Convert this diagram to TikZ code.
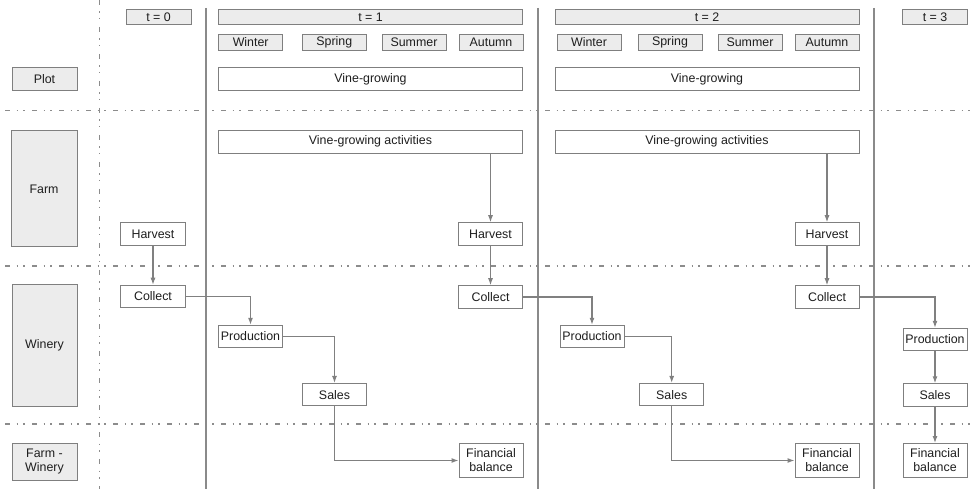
\documentclass[tikz,border=0pt]{standalone}
\usepackage{fontspec}
\setmainfont{Liberation Sans}
\usetikzlibrary{arrows.meta}
\definecolor{bordergray}{HTML}{7F7F7F}
\definecolor{linegray}{HTML}{808080}
\definecolor{fillgray}{HTML}{ECECEC}
\definecolor{sepgray}{HTML}{8C8C8C}
\definecolor{periodgray}{HTML}{8A8A8A}
\definecolor{txt}{HTML}{1E1E1E}
\begin{document}
\begin{tikzpicture}[x=1pt,y=-1pt,
  wbox/.style={draw=bordergray,line width=1pt,fill=white,inner sep=0pt,align=center,
    text=txt,font=\fontsize{12.4}{14}\selectfont},
  gbox/.style={wbox,fill=fillgray},
  sep/.style={draw=sepgray,line width=1.1pt,
    dash pattern=on 5pt off 6.5pt on 1.5pt off 5pt on 1.5pt off 7.5pt},
  period/.style={draw=periodgray,line width=2.8pt},
  flow/.style={draw=linegray,line width=1.1pt,-{Latex[length=7pt,width=5pt]}},
]
\useasboundingbox (0,0) rectangle (975,489);

% separators
\draw[sep] (99.3,0) -- (99.3,489);
\draw[sep] (5,110.5) -- (975,110.5);
\draw[sep] (5,266) -- (975,266);
\draw[sep] (5,424) -- (975,424);

% period lines
\draw[period] (206,8) -- (206,489);
\draw[period] (538,8) -- (538,489);
\draw[period] (874,8) -- (874,489);

% row labels
\node[gbox,minimum width=65pt,minimum height=23pt] (plot) at (44.5,79.5) {Plot};
\node[gbox,minimum width=66pt,minimum height=116pt] (farm) at (44,189) {Farm};
\node[gbox,minimum width=65pt,minimum height=121pt] (winery) at (44.5,345.5) {Winery};
\node[gbox,minimum width=65pt,minimum height=37pt] (fw) at (44.5,461.5) {Farm -\\Winery};

% time headers
\node[gbox,minimum width=65pt,minimum height=15.5pt] (t0) at (158.5,17) {t = 0};
\node[gbox,minimum width=304pt,minimum height=15.5pt] (t1) at (370.5,17) {t = 1};
\node[gbox,minimum width=304pt,minimum height=15.5pt] (t2) at (707,17) {t = 2};
\node[gbox,minimum width=64.5pt,minimum height=15.5pt] (t3) at (935,17) {t = 3};

% seasons
\node[gbox,minimum width=64pt,minimum height=16.5pt] (w1) at (250.7,42.3) {Winter};
\node[gbox,minimum width=64pt,minimum height=16.5pt] (sp1) at (334.3,42.3) {Spring};
\node[gbox,minimum width=64pt,minimum height=16.5pt] (su1) at (414,42.3) {Summer};
\node[gbox,minimum width=64pt,minimum height=16.5pt] (au1) at (491,42.3) {Autumn};
\node[gbox,minimum width=64pt,minimum height=16.5pt] (w2) at (589,42.3) {Winter};
\node[gbox,minimum width=64pt,minimum height=16.5pt] (sp2) at (670,42.3) {Spring};
\node[gbox,minimum width=64pt,minimum height=16.5pt] (su2) at (750,42.3) {Summer};
\node[gbox,minimum width=64pt,minimum height=16.5pt] (au2) at (827,42.3) {Autumn};

% plot row
\node[wbox,minimum width=304pt,minimum height=23pt] (vg1) at (370.5,79.5) {Vine-growing};
\node[wbox,minimum width=304pt,minimum height=23pt] (vg2) at (707,79.5) {Vine-growing};

% farm row
\node[wbox,minimum width=304pt,minimum height=23pt] (vga1) at (370.5,141.7) {Vine-growing activities};
\node[wbox,minimum width=304pt,minimum height=23pt] (vga2) at (707,141.7) {Vine-growing activities};
\node[wbox,minimum width=64.5pt,minimum height=22.5pt] (h0) at (153,234) {Harvest};
\node[wbox,minimum width=64.5pt,minimum height=22.5pt] (h1) at (490.5,234) {Harvest};
\node[wbox,minimum width=64pt,minimum height=22.5pt] (h2) at (827,234) {Harvest};

% winery row
\node[wbox,minimum width=64.5pt,minimum height=22.5pt] (c0) at (153,296.5) {Collect};
\node[wbox,minimum width=64.5pt,minimum height=22.5pt] (c1) at (490.5,297) {Collect};
\node[wbox,minimum width=64pt,minimum height=22.5pt] (c2) at (827,297) {Collect};
\node[wbox,minimum width=64pt,minimum height=22.5pt] (p1) at (250.5,336.5) {Production};
\node[wbox,minimum width=64pt,minimum height=22.5pt] (p2) at (592,336.5) {Production};
\node[wbox,minimum width=64pt,minimum height=22.5pt] (p3) at (935,339.5) {Production};
\node[wbox,minimum width=64.5pt,minimum height=22.5pt] (s1) at (334.5,394.7) {Sales};
\node[wbox,minimum width=64.5pt,minimum height=22.5pt] (s2) at (671.7,394.7) {Sales};
\node[wbox,minimum width=64pt,minimum height=22.5pt] (s3) at (935,395) {Sales};

% farm-winery row
\node[wbox,minimum width=64pt,minimum height=34pt] (f1) at (491,460.5) {Financial\\balance};
\node[wbox,minimum width=64pt,minimum height=34pt] (f2) at (827,460.5) {Financial\\balance};
\node[wbox,minimum width=64pt,minimum height=34pt] (f3) at (935,460.5) {Financial\\balance};

% flows
\draw[flow] (h0) -- (c0);
\draw[flow] (c0.east) -| (p1.north);
\draw[flow] (p1.east) -| (s1.north);
\draw[flow] (s1.south) |- (f1.west);

\draw[flow] (vga1.south -| h1.north) -- (h1.north);
\draw[flow] (h1) -- (c1);
\draw[flow] (c1.east) -| (p2.north);
\draw[flow] (p2.east) -| (s2.north);
\draw[flow] (s2.south) |- (f2.west);

\draw[flow] (vga2.south -| h2.north) -- (h2.north);
\draw[flow] (h2) -- (c2);
\draw[flow] (c2.east) -| (p3.north);
\draw[flow] (p3) -- (s3);
\draw[flow] (s3) -- (f3);
\end{tikzpicture}
\end{document}
